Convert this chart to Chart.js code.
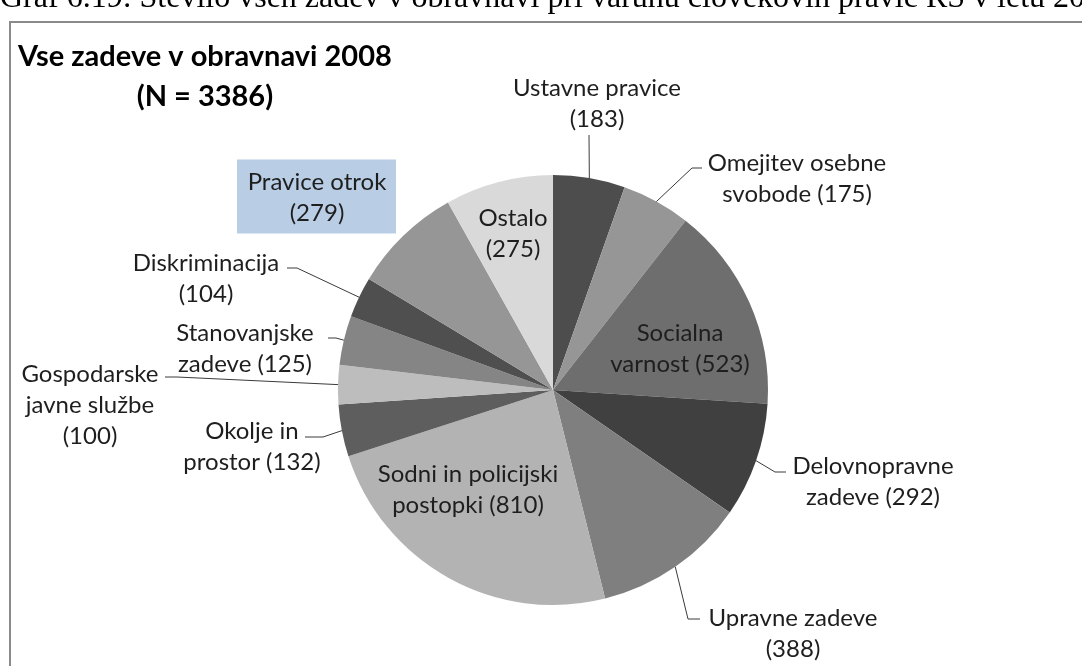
<!DOCTYPE html>
<html>
<head>
<meta charset="utf-8">
<script src="https://cdn.jsdelivr.net/npm/chart.js@4/dist/chart.umd.min.js"></script>
<style>
  html, body { margin: 0; padding: 0; background: #fff; }
  #wrap { position: relative; width: 1082px; height: 666px; overflow: hidden; }
  canvas { display: block; }
</style>
</head>
<body>
<div id="wrap"><canvas id="graf" width="1082" height="666"></canvas></div>
<script>
// Podatki: zadeve v obravnavi 2008 po področjih
const categories = ['Ustavne pravice', 'Omejitev osebne svobode', 'Socialna varnost', 'Delovnopravne zadeve',
  'Upravne zadeve', 'Sodni in policijski postopki', 'Okolje in prostor', 'Gospodarske javne službe',
  'Stanovanjske zadeve', 'Diskriminacija', 'Pravice otrok', 'Ostalo'];
const counts = [183, 175, 523, 292, 388, 810, 132, 100, 125, 104, 279, 275];
const sliceColors = ['#4d4d4d', '#969696', '#6e6e6e', '#404040', '#7f7f7f', '#b3b3b3',
  '#5e5e5e', '#bdbdbd', '#858585', '#4f4f4f', '#969696', '#d9d9d9'];

const titleLines = ['Vse zadeve v obravnavi 2008', '(N = 3386)'];
const caption = 'Graf 6.19: Število vseh zadev v obravnavi pri varuhu človekovih pravic RS v letu 2008';

// Razporeditev oznak (odmiki od središča torte), v istem vrstnem redu kot categories
const labelLayout = [
  { lines: ['Ustavne pravice', '(183)'], dx: 44, dy: -302, leader: [[36, -255]] },
  { lines: ['Omejitev osebne', 'svobode (175)'], dx: 244, dy: -227, leader: [[139, -222], [149, -222]] },
  { lines: ['Socialna', 'varnost (523)'], dx: 127, dy: -57, leader: null },
  { lines: ['Delovnopravne', 'zadeve (292)'], dx: 320, dy: 76, leader: [[222, 82], [233, 82]] },
  { lines: ['Upravne zadeve', '(388)'], dx: 240, dy: 228, leader: [[135, 229], [147, 229]] },
  { lines: ['Sodni in policijski', 'postopki (810)'], dx: -85, dy: 84, leader: null },
  { lines: ['Okolje in', 'prostor (132)'], dx: -301, dy: 41, leader: [[-230, 47], [-248, 47]] },
  { lines: ['Gospodarske', 'javne službe', '(100)'], dx: -463, dy: -16, leader: [[-376, -13], [-388, -13]] },
  { lines: ['Stanovanjske', 'zadeve (125)'], dx: -308, dy: -57, leader: [[-217, -52], [-225, -52]] },
  { lines: ['Diskriminacija', '(104)'], dx: -347, dy: -127, leader: [[-256, -122], [-266, -122]] },
  { lines: ['Pravice otrok', '(279)'], dx: -236, dy: -208, leader: null, box: '#b9cde5' },
  { lines: ['Ostalo', '(275)'], dx: -40, dy: -172, leader: null }
];

const LABEL_FONT = '24px Lato';
const LINE_H = 31;

const labelsPlugin = {
  id: 'oznake',
  afterDraw(chart) {
    const ctx = chart.ctx;
    const arcs = chart.getDatasetMeta(0).data;
    ctx.save();

    // okvir grafa
    ctx.strokeStyle = '#8a8a8a';
    ctx.lineWidth = 2;
    ctx.strokeRect(10, 22, 1200, 800);

    // napis nad grafom (odrezan)
    ctx.fillStyle = '#000';
    ctx.font = '32px "Liberation Serif"';
    ctx.textBaseline = 'alphabetic';
    ctx.textAlign = 'left';
    ctx.fillText(caption, 0, 7);

    // naslov
    ctx.font = 'bold 29px Lato';
    ctx.fillStyle = '#000';
    ctx.textAlign = 'left';
    ctx.textBaseline = 'middle';
    ctx.fillText(titleLines[0], 18, 57);
    const w0 = ctx.measureText(titleLines[0]).width;
    ctx.textAlign = 'center';
    ctx.fillText(titleLines[1], 18 + w0 / 2, 97);

    ctx.font = LABEL_FONT;
    arcs.forEach((arc, i) => {
      const p = arc.getProps(['x', 'y', 'startAngle', 'endAngle', 'outerRadius'], true);
      const lay = labelLayout[i];
      const cx = p.x, cy = p.y;

      if (lay.leader) {
        const mid = (p.startAngle + p.endAngle) / 2;
        ctx.beginPath();
        ctx.moveTo(cx + Math.cos(mid) * p.outerRadius, cy + Math.sin(mid) * p.outerRadius);
        lay.leader.forEach(pt => ctx.lineTo(cx + pt[0], cy + pt[1]));
        ctx.strokeStyle = '#3a3a3a';
        ctx.lineWidth = 1;
        ctx.stroke();
      }

      const tx = cx + lay.dx;
      const ty = cy + lay.dy;
      if (lay.box) {
        ctx.fillStyle = lay.box;
        ctx.fillRect(tx - 80, ty - LINE_H / 2 - 7, 159, lay.lines.length * LINE_H + 12);
      }
      ctx.fillStyle = '#1e1e1e';
      ctx.textAlign = 'center';
      ctx.textBaseline = 'middle';
      lay.lines.forEach((line, k) => ctx.fillText(line, tx, ty + k * LINE_H));
    });
    ctx.restore();
  }
};

const ctx = document.getElementById('graf').getContext('2d');
const myChart = new Chart(ctx, {
  type: 'pie',
  data: {
    labels: categories,
    datasets: [{
      data: counts,
      backgroundColor: sliceColors,
      borderWidth: 0
    }]
  },
  options: {
    responsive: false,
    animation: false,
    layout: { padding: { top: 175, bottom: 61, left: 338, right: 314 } },
    plugins: {
      legend: { display: false },
      tooltip: { enabled: false }
    }
  },
  plugins: [labelsPlugin]
});
</script>
</body>
</html>
